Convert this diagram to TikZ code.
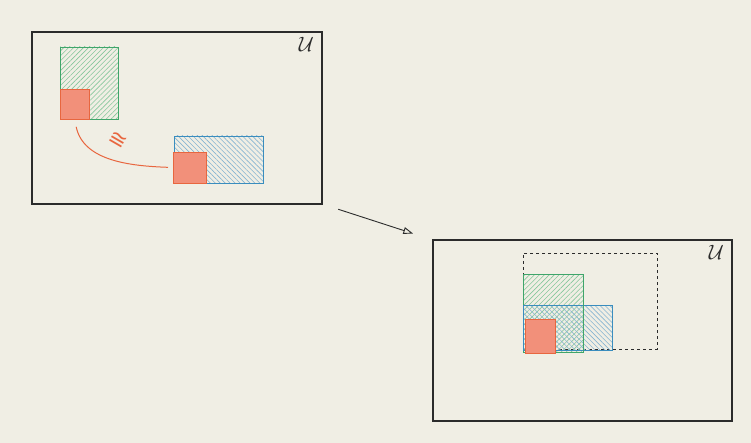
\documentclass[tikz,border=0pt]{standalone}
\usepackage{fontspec}
\newfontfamily\symfont{DejaVu Sans}
\usetikzlibrary{arrows.meta,patterns.meta}
\definecolor{Paper}{HTML}{F0EEE4}
\definecolor{Ink}{HTML}{2B2B2B}
\definecolor{Leaf}{HTML}{3FA56A}
\definecolor{LeafSoft}{HTML}{86C79C}
\definecolor{Sky}{HTML}{3A8DBE}
\definecolor{SkySoft}{HTML}{86B4D2}
\definecolor{Coral}{HTML}{E8663F}
\definecolor{CoralSoft}{HTML}{F2907A}
\tikzset{
  ubox/.style={draw=Ink,line width=1.1pt,anchor=north west,inner sep=0pt,outer sep=0pt},
  ulabel/.style={anchor=north east,font=\huge,text=Ink,inner sep=1pt},
  greenbox/.style={draw=Leaf,line width=0.8pt,anchor=north west,inner sep=0pt,outer sep=0pt,
    pattern={Lines[angle=45,distance=3.5pt,line width=0.6pt]},pattern color=LeafSoft},
  bluebox/.style={draw=Sky,line width=0.8pt,anchor=north west,inner sep=0pt,outer sep=0pt,
    pattern={Lines[angle=-45,distance=3.5pt,line width=0.6pt]},pattern color=SkySoft},
  redbox/.style={draw=Coral,fill=CoralSoft,line width=0.8pt,anchor=north west,inner sep=0pt,outer sep=0pt},
  hullbox/.style={draw=Ink,dashed,line width=0.8pt,anchor=north west,inner sep=0pt,outer sep=0pt},
  line/.style={-{Triangle[open,length=3.4mm,width=2.4mm]},draw=Ink,line width=0.9pt},
  isoline/.style={draw=Coral,line width=1pt},
  isolabel/.style={text=Coral,font=\symfont\fontsize{22}{24}\selectfont,rotate=-30,inner sep=0pt}
}
\begin{document}
\begin{tikzpicture}[x=1pt,y=-1pt]
  \fill[Paper] (0,0) rectangle (751,443);
  % left universe
  \node[ubox,minimum width=290,minimum height=172] (U1) at (32,32) {};
  \node[ulabel] (u1) at ([shift={(-7,4)}]U1.north east) {$\mathcal{U}$};
  \node[greenbox,minimum width=58,minimum height=72] (gA) at (60,47) {};
  \node[redbox,minimum width=29,minimum height=30] (rA) at (60,89) {};
  \node[bluebox,minimum width=89,minimum height=47] (bA) at (174,136) {};
  \node[redbox,minimum width=33,minimum height=31] (rB) at (173,152) {};
  \draw[isoline,shorten <=8pt,shorten >=5pt] (rA.south) to[out=-78,in=178] (rB.west);
  \node[isolabel] (iso) at (118,140) {≅};
  % right universe
  \node[ubox,minimum width=299,minimum height=181] (U2) at (433,240) {};
  \node[ulabel] (u2) at ([shift={(-7,4)}]U2.north east) {$\mathcal{U}$};
  \node[hullbox,minimum width=134,minimum height=96] (hull) at (523,253) {};
  \node[greenbox,minimum width=60,minimum height=78] (gB) at (523,274) {};
  \node[bluebox,minimum width=89,minimum height=45] (bB) at (523,305) {};
  \draw[Leaf,line width=0.8pt] (gB.north east) -- (gB.south east);
  \node[redbox,minimum width=30,minimum height=34] (rC) at (525,319) {};
  % map
  \draw[line,shorten <=17pt,shorten >=21pt] (U1.south east) -- (U2.north west);
\end{tikzpicture}
\end{document}
